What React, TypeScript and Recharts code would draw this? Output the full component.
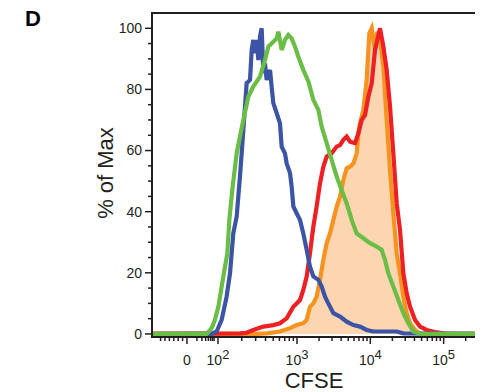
import React from "react";
import { ComposedChart, Line, Area, XAxis, YAxis, ReferenceArea, Label } from "recharts";

// x positions are in CFSE display units (1 unit = one decade, 3 = 10^3)
const blueCfse = [1.0, 1.836, 1.904, 1.972, 2.04, 2.086, 2.131, 2.177, 2.222, 2.268, 2.313, 2.359, 2.382, 2.404, 2.427, 2.45, 2.473, 2.495, 2.518, 2.541, 2.563, 2.586, 2.632, 2.654, 2.677, 2.723, 2.768, 2.791, 2.836, 2.859, 2.905, 2.927, 2.95, 2.995, 3.041, 3.086, 3.132, 3.177, 3.223, 3.291, 3.337, 3.382, 3.427, 3.496, 3.587, 3.678, 3.769, 3.859, 3.95, 4.041, 4.36, 4.451, 5.47];
const bluePct = [0, 0, 0.8, 4.6, 12.2, 19.8, 32.9, 38.4, 51.5, 66.7, 82.0, 83.1, 92.9, 96.2, 91.8, 96.2, 89.6, 97.3, 100, 85.3, 88.5, 83.1, 86.4, 80.9, 75.5, 72.2, 68.9, 61.3, 59.1, 55.8, 52.6, 48.2, 41.7, 39.5, 37.3, 32.9, 27.5, 22.0, 18.8, 17.7, 15.5, 12.2, 10.0, 6.8, 5.7, 4.0, 2.9, 2.4, 1.3, 0.8, 0.8, 0.2, 0];

const greenCfse = [1.0, 1.768, 1.836, 1.881, 1.927, 1.972, 2.018, 2.05, 2.077, 2.122, 2.177, 2.222, 2.268, 2.336, 2.404, 2.495, 2.563, 2.609, 2.677, 2.723, 2.745, 2.791, 2.836, 2.882, 2.927, 2.973, 3.018, 3.086, 3.155, 3.223, 3.291, 3.337, 3.405, 3.473, 3.541, 3.609, 3.678, 3.746, 3.814, 3.905, 3.996, 4.087, 4.155, 4.201, 4.246, 4.314, 4.382, 4.451, 4.519, 4.587, 4.678, 5.47];
const greenPct = [0, 0, 1.9, 4.6, 8.9, 15.5, 22.0, 26.4, 37.3, 48.2, 59.1, 64.6, 70.0, 77.6, 80.9, 84.2, 89.6, 94.0, 95.6, 96.7, 98.9, 92.9, 96.2, 97.8, 96.7, 94.0, 90.7, 86.4, 82.6, 76.6, 73.3, 67.8, 62.4, 56.9, 51.5, 47.1, 42.7, 37.3, 32.9, 31.3, 29.7, 28.6, 27.5, 24.2, 19.8, 15.5, 11.1, 6.8, 3.5, 0.8, 0, 0];

const redCfse = [1.0, 2.222, 2.313, 2.404, 2.541, 2.677, 2.768, 2.859, 2.95, 3.041, 3.086, 3.132, 3.177, 3.223, 3.268, 3.314, 3.359, 3.405, 3.473, 3.541, 3.587, 3.632, 3.678, 3.723, 3.791, 3.837, 3.882, 3.928, 3.973, 4.019, 4.064, 4.096, 4.132, 4.178, 4.223, 4.269, 4.314, 4.36, 4.405, 4.451, 4.496, 4.542, 4.61, 4.678, 4.769, 4.905, 5.04, 5.47];
const redPct = [0, 0.2, 0.4, 1.3, 2.4, 2.9, 3.5, 5.1, 8.9, 11.1, 14.4, 18.8, 26.4, 35.1, 41.7, 49.3, 54.7, 58.0, 59.1, 61.3, 61.8, 63.5, 64.6, 62.9, 62.4, 65.6, 70.0, 71.6, 77.6, 82.0, 92.9, 96.2, 100, 94.0, 86.4, 74.4, 59.1, 42.7, 34.0, 19.8, 13.3, 8.9, 4.6, 2.4, 1.3, 0.5, 0, 0];

const orangeCfse = [1.0, 2.45, 2.586, 2.768, 2.905, 2.995, 3.086, 3.132, 3.177, 3.223, 3.268, 3.314, 3.359, 3.405, 3.45, 3.496, 3.541, 3.587, 3.632, 3.678, 3.723, 3.769, 3.814, 3.837, 3.859, 3.905, 3.95, 3.987, 4.019, 4.041, 4.064, 4.096, 4.132, 4.178, 4.223, 4.269, 4.314, 4.36, 4.405, 4.451, 4.496, 4.542, 4.61, 4.678, 5.47];
const orangePct = [0, 0, 0.2, 0.8, 1.9, 2.9, 3.5, 4.6, 8.9, 10.0, 12.2, 17.7, 24.2, 29.7, 32.9, 37.3, 41.7, 44.9, 50.4, 54.2, 54.7, 55.8, 59.1, 65.6, 68.9, 73.3, 83.1, 98.4, 100, 96.2, 92.9, 98.9, 96.2, 87.5, 70.0, 53.7, 39.5, 26.4, 19.8, 12.2, 6.8, 3.5, 1.3, 0, 0];

// axis ticks
const xMajor = [
  { pos: 1.499, base: "0", exp: "" },
  { pos: 1.922, base: "10", exp: "2" },
  { pos: 3, base: "10", exp: "3" },
  { pos: 4, base: "10", exp: "4" },
  { pos: 5, base: "10", exp: "5" },
];
const xMinor = [
  1.139, 1.199, 1.259, 1.319, 1.379, 1.439,
  1.635, 1.703, 1.754, 1.791, 1.822, 1.847, 1.869,
  2.246, 2.436, 2.571, 2.675, 2.76, 2.833, 2.895, 2.95,
  3.301, 3.477, 3.602, 3.699, 3.778, 3.845, 3.903, 3.954,
  4.301, 4.477, 4.602, 4.699, 4.778, 4.845, 4.903, 4.954,
  5.301,
];
const yTicks = [0, 5, 10, 15, 20, 25, 30, 35, 40, 45, 50, 55, 60, 65, 70, 75, 80, 85, 90, 95, 100];

const X_DOMAIN: [number, number] = [1.022, 5.469];
const Y_DOMAIN: [number, number] = [-1, 105];
const INK = "#231f20";
const FONT = "'Liberation Sans', Arial, sans-serif";
const LINE_W = 4.2;

const pts = (xs: number[], ys: number[]) => xs.map((x, i) => ({ x, y: ys[i] }));

function XTick(props: any) {
  const { x, y, payload } = props;
  const major = xMajor.find((t) => Math.abs(t.pos - payload.value) < 1e-6);
  return (
    <g>
      <line x1={x} y1={y} x2={x} y2={y + (major ? 7 : 4)} stroke={INK} strokeWidth={1.5} />
      {major && (
        <text x={x} y={y + 28} textAnchor="middle" fontSize={14} fill={INK} fontFamily={FONT}>
          {major.base}
          {major.exp && (
            <tspan dy={-6} fontSize={13}>
              {major.exp}
            </tspan>
          )}
        </text>
      )}
    </g>
  );
}

function YTick(props: any) {
  const { x, y, payload } = props;
  const major = payload.value % 20 === 0;
  return (
    <g>
      <line x1={x} y1={y} x2={x - (major ? 7 : 4)} y2={y} stroke={INK} strokeWidth={1.5} />
      {major && (
        <text x={x - 10} y={y} dy="0.35em" textAnchor="end" fontSize={14} fill={INK} fontFamily={FONT}>
          {payload.value}
        </text>
      )}
    </g>
  );
}

export default function App() {
  const xTicks = [...xMajor.map((t) => t.pos), ...xMinor].sort((a, b) => a - b);
  return (
    <div style={{ position: "relative", width: 475, height: 384, fontFamily: FONT }}>
      <div style={{ position: "absolute", left: 17, top: -2, fontSize: 22, fontWeight: 700, color: "#000" }}>D</div>
      <ComposedChart width={475} height={384} margin={{ top: 5, right: 5, bottom: 0, left: 0 }}>
        <XAxis
          type="number"
          dataKey="x"
          domain={X_DOMAIN}
          ticks={xTicks}
          allowDataOverflow
          interval={0}
          tick={<XTick />}
          tickLine={false}
          tickSize={0}
          tickMargin={0}
          axisLine={{ stroke: INK, strokeWidth: 2 }}
          height={55}
        >
          <Label
            content={() => (
              <text x={306} y={380} textAnchor="middle" fontSize={22} fill={INK} fontFamily={FONT}>
                CFSE
              </text>
            )}
          />
        </XAxis>
        <YAxis
          type="number"
          domain={Y_DOMAIN}
          ticks={yTicks}
          allowDataOverflow
          interval={0}
          tick={<YTick />}
          tickLine={false}
          tickSize={0}
          tickMargin={0}
          axisLine={{ stroke: INK, strokeWidth: 2 }}
          width={144}
        >
          <Label
            content={() => (
              <text
                x={0}
                y={0}
                transform="translate(105 165) rotate(-90)"
                textAnchor="middle"
                fontSize={22}
                fill={INK}
                fontFamily={FONT}
              >
                % of Max
              </text>
            )}
          />
        </YAxis>
        <Area
          data={pts(orangeCfse, orangePct)}
          dataKey="y"
          type="linear"
          stroke="#f6921e"
          strokeWidth={LINE_W}
          fill="#fdd5b1"
          fillOpacity={1}
          baseValue={0}
          isAnimationActive={false}
        />
        <Line data={pts(redCfse, redPct)} dataKey="y" type="linear" stroke="#ee2024" strokeWidth={LINE_W} dot={false} isAnimationActive={false} />
        <Line data={pts(blueCfse, bluePct)} dataKey="y" type="linear" stroke="#3b54a5" strokeWidth={LINE_W} dot={false} isAnimationActive={false} />
        <Line data={pts(greenCfse, greenPct)} dataKey="y" type="linear" stroke="#6abd45" strokeWidth={LINE_W} dot={false} isAnimationActive={false} />
        <ReferenceArea x1={X_DOMAIN[0]} x2={X_DOMAIN[1]} y1={Y_DOMAIN[0]} y2={Y_DOMAIN[1]} fill="none" stroke={INK} strokeWidth={2} ifOverflow="visible" />
      </ComposedChart>
    </div>
  );
}
